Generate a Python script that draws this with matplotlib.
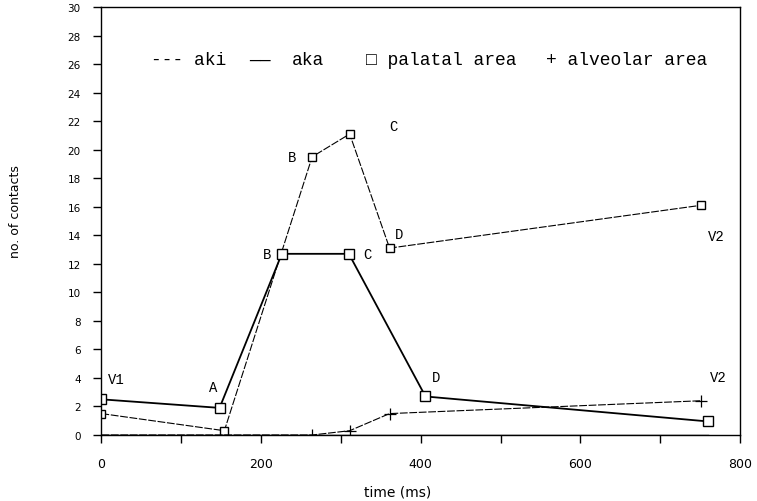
import matplotlib
matplotlib.use("Agg")
import matplotlib.pyplot as plt

# time (ms) of the segment landmarks
time_aka = [0, 148, 226, 310, 406, 760]
time_aki = [0, 154, 264, 311, 361, 751]

# number of contacts
aka_palatal = [2.5, 1.9, 12.7, 12.7, 2.7, 0.95]
aka_alveolar = [0, 0, 0, 0, 0, 0]
aki_palatal = [1.5, 0.3, 19.5, 21.1, 13.1, 16.1]
aki_alveolar = [0, 0, 0, 0.3, 1.5, 2.4]

aka_labels = ["V1", "A", "B", "C", "D", "V2"]
aki_labels = ["", "", "B", "C", "D", "V2"]

# label offsets in pixels (dx, dy, y up)
aka_off = [(15, 20), (-6, 21), (-15, 0), (19, 0), (11, 19), (10, 44)]
aki_off = [(0, 0), (0, 0), (-20, 0), (44, 8), (9, 14), (15, -31)]

mono = "Liberation Mono"

fig = plt.figure(figsize=(7.57, 5.02), dpi=100)
ax = fig.add_axes([0.134, 0.1315, 0.8435, 0.8525])

# aki: thin dashed lines
ax.plot(time_aki, aki_palatal, color="black", lw=0.8, dashes=(7, 1.5),
        marker="s", ms=6, mfc="white", mec="black", mew=1.0)
ax.plot(time_aki, aki_alveolar, color="black", lw=0.8, dashes=(7, 1.5),
        marker="+", ms=8, mec="black", mew=0.9, markevery=[2, 3, 4, 5])
# aka: solid lines
ax.plot(time_aka, aka_palatal, color="black", lw=1.3,
        marker="s", ms=7, mfc="white", mec="black", mew=1.0)
ax.plot(time_aka, aka_alveolar, color="black", lw=1.0)

for t, v, lab, off in zip(time_aka, aka_palatal, aka_labels, aka_off):
    ax.annotate(lab, (t, v), xytext=(off[0] * 0.72, off[1] * 0.72),
                textcoords="offset points", ha="center", va="center",
                family=mono, fontsize=10)
for t, v, lab, off in zip(time_aki, aki_palatal, aki_labels, aki_off):
    if lab:
        ax.annotate(lab, (t, v), xytext=(off[0] * 0.72, off[1] * 0.72),
                    textcoords="offset points", ha="center", va="center",
                    family=mono, fontsize=10)

# legend written as a text line like the original
leg_y = 0.878
ax.text(0.0775, leg_y, "--- aki", transform=ax.transAxes, family=mono,
        fontsize=13, va="center")
ax.text(0.231, leg_y, "\u2014\u2014", transform=ax.transAxes, family=mono,
        fontsize=13, va="center")
ax.text(0.298, leg_y, "aka", transform=ax.transAxes, family=mono,
        fontsize=13, va="center")
ax.text(0.414, leg_y, "\u25a1 palatal area", transform=ax.transAxes, family=mono,
        fontsize=13, va="center")
ax.text(0.696, leg_y, "+ alveolar area", transform=ax.transAxes, family=mono,
        fontsize=13, va="center")

ax.set_xlim(0, 800)
ax.set_ylim(0, 30)
ax.set_xticks([0, 200, 400, 600, 800])
ax.set_xticks([100, 300, 500, 700], minor=True)
ax.set_yticks(range(0, 31, 2))
ax.tick_params(direction="out", length=6, width=1, labelsize=7.5)
ax.tick_params(axis="x", pad=10, labelsize=9)
ax.tick_params(axis="y", pad=9)
ax.tick_params(which="minor", direction="out", length=6, width=1)
for s in ax.spines.values():
    s.set_linewidth(1.0)

ax.set_xlabel("time (ms)", fontsize=10)
ax.xaxis.set_label_coords(0.464, -0.115)
fig.text(0.021, 0.578, "no. of contacts", rotation=90, fontsize=9,
         ha="center", va="center")

fig.savefig("out.png", dpi=100)
